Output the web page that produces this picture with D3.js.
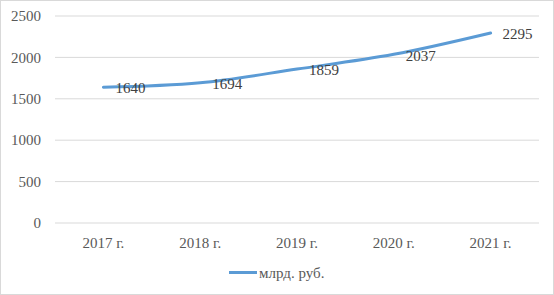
<!DOCTYPE html>
<html><head><meta charset="utf-8">
<script src="https://cdn.jsdelivr.net/npm/d3@7"></script>
<style>body{margin:0;background:#fff}svg{display:block}text{font-family:"Liberation Serif","Times New Roman","DejaVu Serif",serif}</style>
</head><body><svg id="c" width="554" height="295"></svg>
<script>
const categories = ["2017 г.", "2018 г.", "2019 г.", "2020 г.", "2021 г."];
const values = [1640, 1694, 1859, 2037, 2295];
const yTicks = [0, 500, 1000, 1500, 2000, 2500];
const seriesName = "млрд. руб.";

const svg = d3.select("#c");
const fs = 15;
svg.append("rect").attr("x",0.5).attr("y",0.5).attr("width",553).attr("height",294)
  .attr("fill","#fff").attr("stroke","#d9d9d9");

const x = d3.scalePoint().domain(categories).range([103.4, 490.6]);
const y = d3.scaleLinear().domain([0,2500]).range([223,16]);
const left = 55, right = 539;

const g = svg.append("g");
g.selectAll("line.grid").data(yTicks).enter().append("line")
  .attr("x1",left).attr("x2",right).attr("y1",d=>y(d)).attr("y2",d=>y(d))
  .attr("stroke","#d9d9d9").attr("stroke-width",1);

g.selectAll("text.yt").data(yTicks).enter().append("text")
  .attr("x",41).attr("y",d=>y(d)).attr("dy","0.35em").attr("text-anchor","end")
  .attr("font-size",fs).attr("fill","#595959").text(d=>d);

g.selectAll("text.xt").data(categories).enter().append("text")
  .attr("x",d=>x(d)).attr("y",243).attr("dy","0.35em").attr("text-anchor","middle")
  .attr("font-size",fs).attr("fill","#595959").text(d=>d);

const pts = categories.map((c,i)=>[x(c), y(values[i])]);
g.append("path").attr("d", d3.line().curve(d3.curveCatmullRom.alpha(0.5))(pts))
  .attr("fill","none").attr("stroke","#5B9BD5").attr("stroke-width",3).attr("stroke-linecap","round");

g.selectAll("text.lbl").data(values).enter().append("text")
  .attr("x",(d,i)=>x(categories[i])+12).attr("y",d=>y(d)+1).attr("dy","0.35em")
  .attr("font-size",fs).attr("fill","#404040").text(d=>d);

svg.append("line").attr("x1",229).attr("x2",257).attr("y1",272.5).attr("y2",272.5)
  .attr("stroke","#5B9BD5").attr("stroke-width",3);
svg.append("text").attr("x",259).attr("y",272.5).attr("dy","0.35em")
  .attr("font-size",fs).attr("fill","#595959").text(seriesName);
</script></body></html>
